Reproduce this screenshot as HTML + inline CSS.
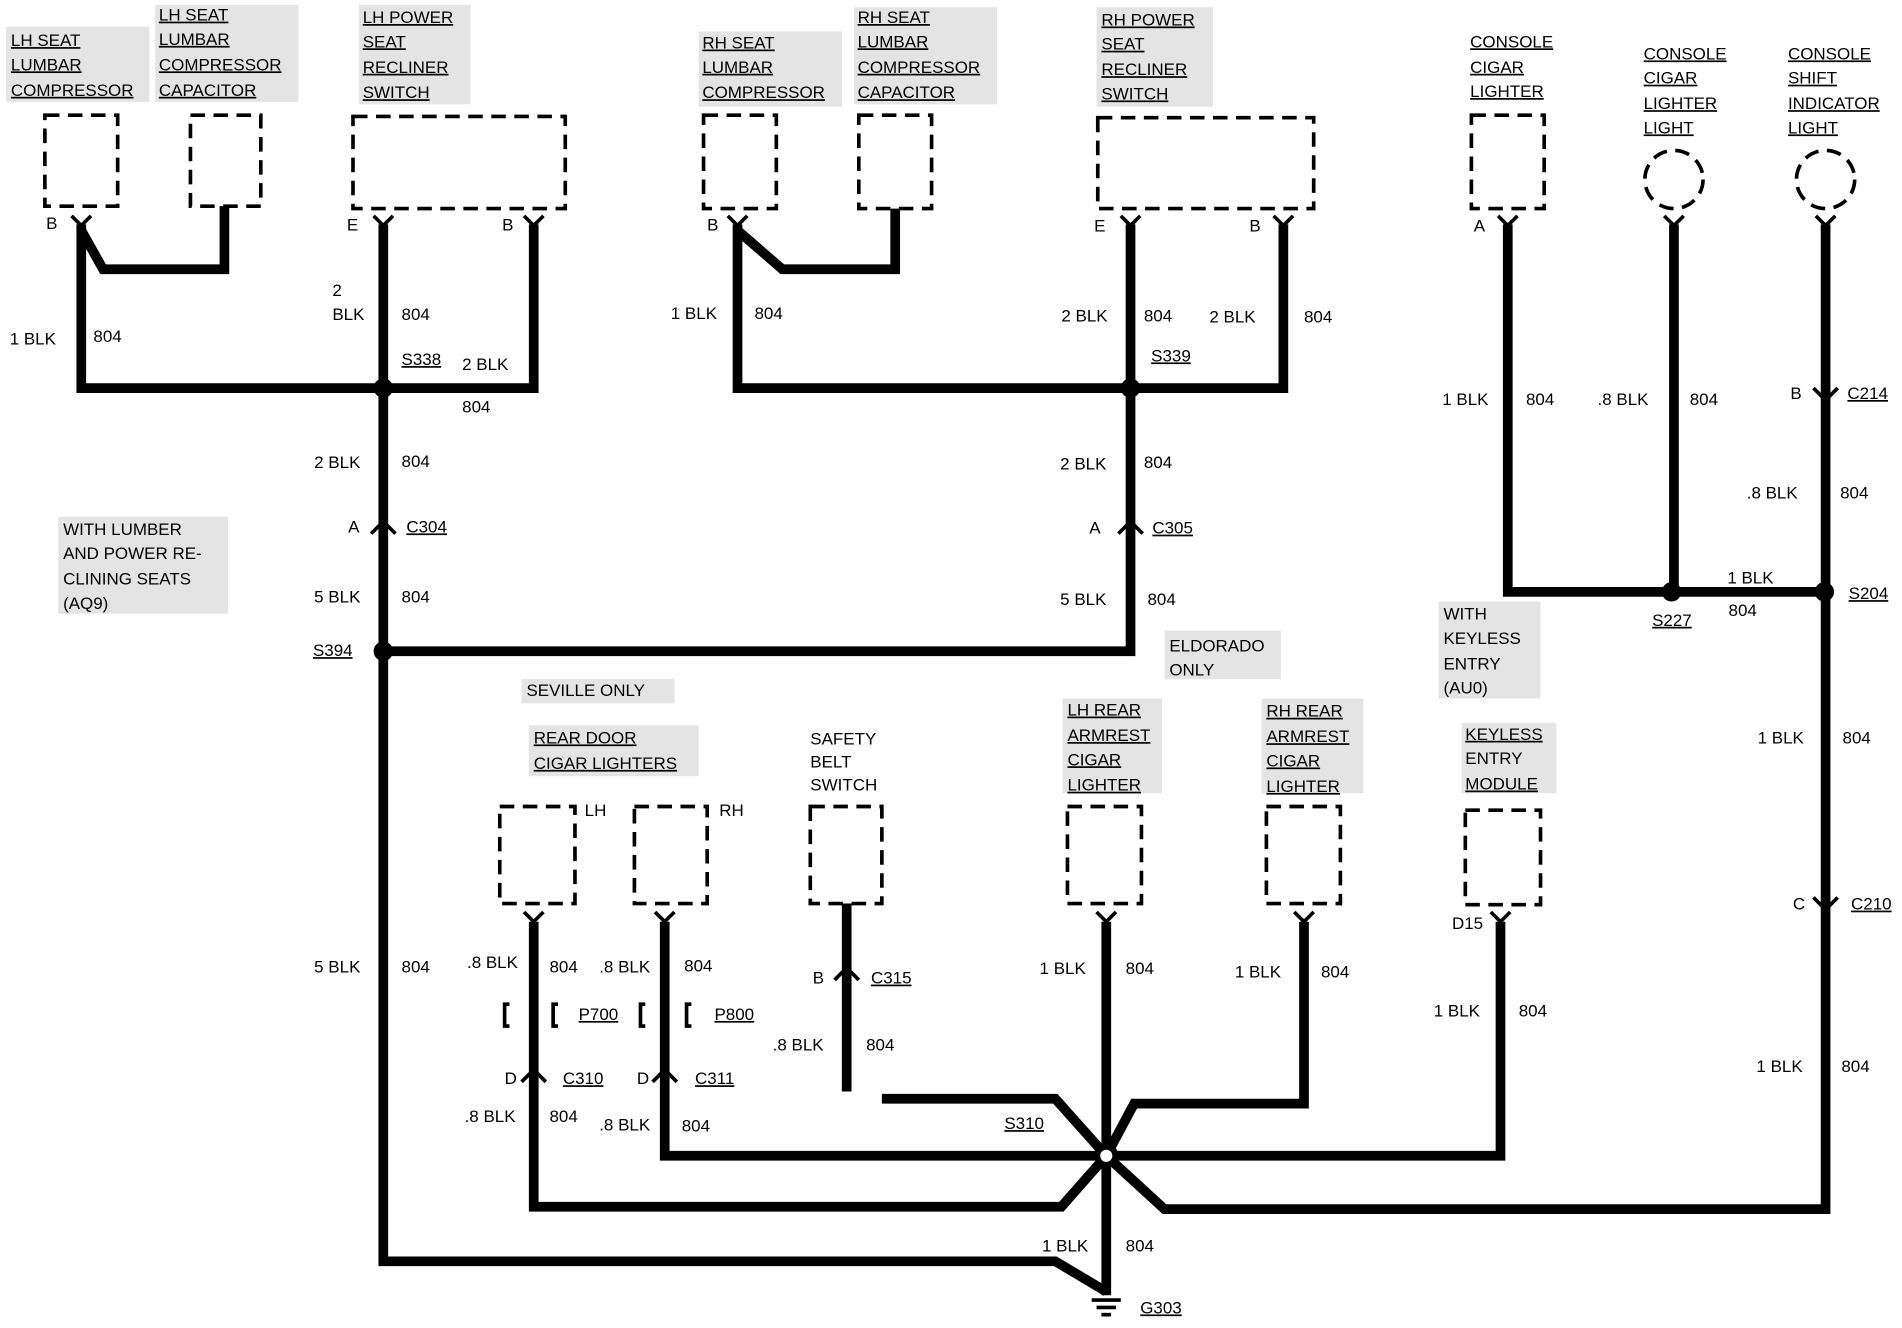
<!DOCTYPE html>
<html><head><meta charset="utf-8"><style>
html,body{margin:0;padding:0;background:#fff;}
svg{display:block;}
text{font-family:"Liberation Sans",Arial,sans-serif;font-size:14px;fill:#000;}
.u{text-decoration:underline;}
.w{stroke:#000;stroke-width:8;fill:none;stroke-linejoin:miter;}
.b{stroke:#000;stroke-width:3;stroke-dasharray:12 7;fill:none;}
.bg{fill:#e4e4e4;}
</style></head><body>
<svg width="1902" height="1328" viewBox="0 0 1568 1095" preserveAspectRatio="none" xmlns="http://www.w3.org/2000/svg">
<!-- label backgrounds -->
<g class="bg">
<rect x="5" y="22" width="118" height="62"/><rect x="128" y="4" width="118" height="80"/><rect x="296" y="4" width="92" height="82"/>
<rect x="576" y="26" width="118" height="62"/><rect x="704" y="6" width="118" height="80"/><rect x="904" y="6" width="96" height="82"/>
<rect x="48" y="426" width="140" height="80"/><rect x="1186" y="496" width="84" height="80"/><rect x="1205" y="596" width="78" height="58"/>
<rect x="876" y="576" width="82" height="78"/><rect x="1040" y="576" width="84" height="78"/><rect x="436" y="598" width="140" height="42"/>
<rect x="960" y="520" width="96" height="40"/><rect x="430" y="560" width="126" height="20"/>
</g>
<!-- boxes -->
<rect class="b" x="37" y="95" width="60" height="75"/><rect class="b" x="157" y="95" width="58" height="75"/>
<rect class="b" x="291" y="96" width="175" height="76"/>
<rect class="b" x="580" y="95" width="60" height="77"/><rect class="b" x="708" y="95" width="60" height="77"/>
<rect class="b" x="905" y="97" width="178" height="75"/>
<rect class="b" x="1213" y="95" width="60" height="77"/>
<circle class="b" cx="1380" cy="148" r="24"/><circle class="b" cx="1505" cy="148" r="24"/>
<rect class="b" x="412" y="665" width="62" height="80"/><rect class="b" x="523" y="665" width="60" height="80"/>
<rect class="b" x="668" y="665" width="59" height="80"/><rect class="b" x="880" y="665" width="61" height="80"/>
<rect class="b" x="1044" y="665" width="61" height="80"/><rect class="b" x="1208" y="668" width="62" height="78"/>
<!-- wires -->
<polyline class="w" points="67,185 67,320 440,320 440,185"/>
<polyline class="w" points="67,190 85,222 185,222 185,170"/>
<polyline class="w" points="316,185 316,1040 870,1040 912,1065"/>
<polyline class="w" points="608,185 608,320 1058,320 1058,185"/>
<polyline class="w" points="608,190 645,222 738,222 738,172"/>
<polyline class="w" points="932,185 932,537 316,537"/>
<polyline class="w" points="1243,185 1243,488 1504,488"/>
<line class="w" x1="1380" y1="185" x2="1380" y2="488"/>
<polyline class="w" points="1505,185 1505,997 960,997 912,953"/>
<line class="w" x1="912" y1="760" x2="912" y2="1068"/>
<polyline class="w" points="1075,760 1075,910 935,910 912,953"/>
<polyline class="w" points="727,906 870,906 912,953"/>
<polyline class="w" points="548,760 548,953 912,953"/>
<polyline class="w" points="440,760 440,995 875,995 912,953"/>
<polyline class="w" points="1237,760 1237,953 912,953"/>
<line class="w" x1="698" y1="745" x2="698" y2="900"/>
<!-- terminal chevrons -->
<g stroke="#000" stroke-width="3" fill="none">
<path d="M59,178 L67,186 L75,178"/><path d="M308,178 L316,186 L324,178"/><path d="M432,178 L440,186 L448,178"/>
<path d="M600,178 L608,186 L616,178"/><path d="M924,178 L932,186 L940,178"/><path d="M1050,178 L1058,186 L1066,178"/>
<path d="M1235,178 L1243,186 L1251,178"/><path d="M1372,178 L1380,186 L1388,178"/><path d="M1497,178 L1505,186 L1513,178"/>
<path d="M432,752 L440,760 L448,752"/><path d="M540,752 L548,760 L556,752"/><path d="M904,752 L912,760 L920,752"/>
<path d="M1067,752 L1075,760 L1083,752"/><path d="M1229,752 L1237,760 L1245,752"/>
<!-- inline connectors -->
<path d="M306,440 L316,430 L326,440"/><path d="M922,440 L932,430 L942,440"/><path d="M688,808 L698,798 L708,808"/>
<path d="M430,892 L440,882 L450,892"/><path d="M538,892 L548,882 L558,892"/>
<path d="M1495,320 L1505,330 L1515,320"/><path d="M1495,740 L1505,750 L1515,740"/>
<path d="M420,828 L416,828 L416,846 L420,846"/><path d="M460,828 L456,828 L456,846 L460,846"/>
<path d="M532,828 L528,828 L528,846 L532,846"/><path d="M570,828 L566,828 L566,846 L570,846"/>
</g>
<!-- splices -->
<g fill="#000"><circle cx="316" cy="320" r="8"/><circle cx="932" cy="320" r="8"/><circle cx="316" cy="537" r="8"/>
<circle cx="1378" cy="488" r="8"/><circle cx="1504" cy="488" r="8"/><circle cx="912" cy="953" r="10"/></g>
<circle cx="912" cy="953" r="5" fill="#fff"/>
<!-- ground -->
<g stroke="#000" stroke-width="3"><line x1="900" y1="1072" x2="924" y2="1072"/><line x1="904" y1="1078" x2="920" y2="1078"/><line x1="908" y1="1084" x2="916" y2="1084"/></g>
<!-- labels -->
<text class="u" x="9" y="38">LH SEAT</text><text class="u" x="9" y="58">LUMBAR</text><text class="u" x="9" y="79">COMPRESSOR</text>
<text class="u" x="131" y="17">LH SEAT</text><text class="u" x="131" y="37">LUMBAR</text><text class="u" x="131" y="58">COMPRESSOR</text><text class="u" x="131" y="79">CAPACITOR</text>
<text class="u" x="299" y="19">LH POWER</text><text class="u" x="299" y="39">SEAT</text><text class="u" x="299" y="60">RECLINER</text><text class="u" x="299" y="81">SWITCH</text>
<text class="u" x="579" y="40">RH SEAT</text><text class="u" x="579" y="60">LUMBAR</text><text class="u" x="579" y="81">COMPRESSOR</text>
<text class="u" x="707" y="19">RH SEAT</text><text class="u" x="707" y="39">LUMBAR</text><text class="u" x="707" y="60">COMPRESSOR</text><text class="u" x="707" y="81">CAPACITOR</text>
<text class="u" x="908" y="21">RH POWER</text><text class="u" x="908" y="41">SEAT</text><text class="u" x="908" y="62">RECLINER</text><text class="u" x="908" y="82">SWITCH</text>
<text class="u" x="1212" y="39">CONSOLE</text><text class="u" x="1212" y="60">CIGAR</text><text class="u" x="1212" y="80">LIGHTER</text>
<text class="u" x="1355" y="49">CONSOLE</text><text class="u" x="1355" y="69">CIGAR</text><text class="u" x="1355" y="90">LIGHTER</text><text class="u" x="1355" y="110">LIGHT</text>
<text class="u" x="1474" y="49">CONSOLE</text><text class="u" x="1474" y="69">SHIFT</text><text class="u" x="1474" y="90">INDICATOR</text><text class="u" x="1474" y="110">LIGHT</text>
<text x="38" y="189">B</text><text x="286" y="190">E</text><text x="414" y="190">B</text><text x="583" y="190">B</text>
<text x="902" y="191">E</text><text x="1030" y="191">B</text><text x="1215" y="191">A</text>
<text x="274" y="244">2</text><text x="274" y="264">BLK</text><text x="331" y="264">804</text>
<text x="8" y="284">1 BLK</text><text x="77" y="282">804</text>
<text class="u" x="331" y="301">S338</text><text x="381" y="305">2 BLK</text><text x="381" y="340">804</text>
<text x="553" y="263">1 BLK</text><text x="622" y="263">804</text>
<text x="875" y="265">2 BLK</text><text x="943" y="265">804</text><text x="997" y="266">2  BLK</text><text x="1075" y="266">804</text>
<text class="u" x="949" y="298">S339</text>
<text x="259" y="386">2 BLK</text><text x="331" y="385">804</text><text x="874" y="387">2 BLK</text><text x="943" y="386">804</text>
<text x="287" y="439">A</text><text class="u" x="335" y="439">C304</text><text x="898" y="440">A</text><text class="u" x="950" y="440">C305</text>
<text x="52" y="441">WITH LUMBER</text><text x="52" y="461">AND POWER RE-</text><text x="52" y="482">CLINING SEATS</text><text x="52" y="502">(AQ9)</text>
<text x="259" y="497">5 BLK</text><text x="331" y="497">804</text><text x="874" y="499">5 BLK</text><text x="946" y="499">804</text>
<text class="u" x="258" y="541">S394</text>
<text x="964" y="537">ELDORADO</text><text x="964" y="557">ONLY</text>
<text x="1189" y="334">1 BLK</text><text x="1258" y="334">804</text><text x="1317" y="334">.8 BLK</text><text x="1393" y="334">804</text>
<text x="1476" y="329">B</text><text class="u" x="1523" y="329">C214</text>
<text x="1440" y="411">.8 BLK</text><text x="1517" y="411">804</text>
<text x="1424" y="481">1 BLK</text><text x="1425" y="508">804</text><text class="u" x="1362" y="516">S227</text><text class="u" x="1524" y="494">S204</text>
<text x="1190" y="511">WITH</text><text x="1190" y="531">KEYLESS</text><text x="1190" y="552">ENTRY</text><text x="1190" y="572">(AU0)</text>
<text x="434" y="574">SEVILLE  ONLY</text>
<text class="u" x="440" y="613">REAR DOOR</text><text class="u" x="440" y="634">CIGAR LIGHTERS</text>
<text x="668" y="614">SAFETY</text><text x="668" y="633">BELT</text><text x="668" y="652">SWITCH</text>
<text class="u" x="880" y="590">LH REAR</text><text class="u" x="880" y="611">ARMREST</text><text class="u" x="880" y="631">CIGAR</text><text class="u" x="880" y="652">LIGHTER</text>
<text class="u" x="1044" y="591">RH REAR</text><text class="u" x="1044" y="612">ARMREST</text><text class="u" x="1044" y="632">CIGAR</text><text class="u" x="1044" y="653">LIGHTER</text>
<text class="u" x="1208" y="610">KEYLESS</text><text x="1208" y="630">ENTRY</text><text class="u" x="1208" y="651">MODULE</text>
<text x="1449" y="613">1 BLK</text><text x="1519" y="613">804</text>
<text x="482" y="673">LH</text><text x="593" y="673">RH</text>
<text x="1478" y="750">C</text><text class="u" x="1526" y="750">C210</text><text x="1197" y="766">D15</text>
<text x="259" y="802">5 BLK</text><text x="331" y="802">804</text>
<text x="385" y="798">.8 BLK</text><text x="453" y="802">804</text><text x="494" y="802">.8 BLK</text><text x="564" y="801">804</text>
<text x="857" y="803">1 BLK</text><text x="928" y="803">804</text><text x="1018" y="806">1 BLK</text><text x="1089" y="806">804</text>
<text x="670" y="811">B</text><text class="u" x="718" y="811">C315</text>
<text class="u" x="477" y="841">P700</text><text class="u" x="589" y="841">P800</text>
<text x="1182" y="838">1 BLK</text><text x="1252" y="838">804</text>
<text x="637" y="866">.8 BLK</text><text x="714" y="866">804</text>
<text x="1448" y="884">1 BLK</text><text x="1518" y="884">804</text>
<text x="416" y="894">D</text><text class="u" x="464" y="894">C310</text><text x="525" y="894">D</text><text class="u" x="573" y="894">C311</text>
<text x="383" y="925">.8 BLK</text><text x="453" y="925">804</text><text x="494" y="932">.8 BLK</text><text x="562" y="933">804</text>
<text class="u" x="828" y="931">S310</text>
<text x="859" y="1032">1 BLK</text><text x="928" y="1032">804</text>
<text class="u" x="940" y="1083">G303</text>
</svg>
</body></html>
